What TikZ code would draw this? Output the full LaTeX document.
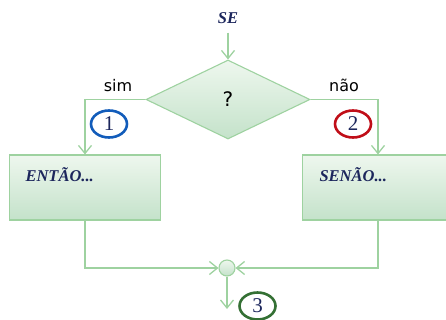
\documentclass[tikz,border=0pt]{standalone}
\usepackage{fontspec}
\setmainfont{Liberation Serif}
\setsansfont{DejaVu Sans}
\usetikzlibrary{arrows.meta,shapes.geometric}
\definecolor{flow}{RGB}{158,210,160}
\definecolor{filltop}{RGB}{238,247,238}
\definecolor{fillbot}{RGB}{196,226,202}
\definecolor{ink}{RGB}{28,38,92}
\definecolor{markblue}{RGB}{18,92,186}
\definecolor{markred}{RGB}{192,14,24}
\definecolor{markgreen}{RGB}{52,112,52}
\tikzset{
  flowline/.style={draw=flow, line width=1.3pt},
  flowarrow/.style={flowline, -{Straight Barb[length=8pt,width=13pt,line width=1.3pt]}},
  shaded/.style={draw=flow, line width=1.1pt, top color=filltop, bottom color=fillbot},
  blockbox/.style={shaded, rectangle, minimum width=151pt, minimum height=65pt, inner sep=0pt},
  keyword/.style={font=\fontsize{16.5}{16.5}\selectfont\bfseries\itshape, text=ink},
  answer/.style={font=\sffamily\fontsize{16}{16}\selectfont, text=black},
  stepmark/.style={ellipse, draw, line width=2.6pt, minimum width=36pt, minimum height=27pt,
    inner sep=0pt, text=ink, font=\fontsize{21}{21}\selectfont},
}
\begin{document}
\begin{tikzpicture}[x=1pt, y=-1pt]
  \useasboundingbox (0,0) rectangle (446,320);
  \clip (0,0) rectangle (446,320);

  % title and decision
  \node[keyword, anchor=base] (se) at (228,24) {SE};
  \node[shaded, diamond, aspect=2.08, minimum width=164pt, minimum height=79pt, inner sep=0pt,
        font=\sffamily\fontsize{20}{20}\selectfont] (q) at (228,99.5) {?};

  % branches
  \node[blockbox] (entao) at (85,187.5) {};
  \node[blockbox] (senao) at (378,187.5) {};
  \node[keyword, anchor=base west] (entaotxt) at (22,182) {ENTÃO...};
  \node[keyword, anchor=base west] (senaotxt) at (316,182) {SENÃO...};

  % join point
  \node[shaded, circle, minimum size=16pt, inner sep=0pt] (j) at (227,268) {};
  \coordinate (out) at (227,309);

  % labels
  \node[answer, anchor=base] (sim) at (118,92) {sim};
  \node[answer, anchor=base] (nao) at (344,92) {não};
  \node[stepmark, draw=markblue] (m1) at (109,124) {1};
  \node[stepmark, draw=markred] (m2) at (353,124) {2};
  \node[stepmark, draw=markgreen] (m3) at (257.5,306) {3};

  % connectors
  \draw[flowarrow, shorten <=5pt] (se.south) -- (q.north);
  \draw[flowarrow] (q.west) -| (entao.north);
  \draw[flowarrow] (q.east) -| (senao.north);
  \draw[flowarrow] (entao.south) |- (j.west);
  \draw[flowarrow] (senao.south) |- (j.east);
  \draw[flowarrow] (j.south) -- (out);
\end{tikzpicture}
\end{document}
